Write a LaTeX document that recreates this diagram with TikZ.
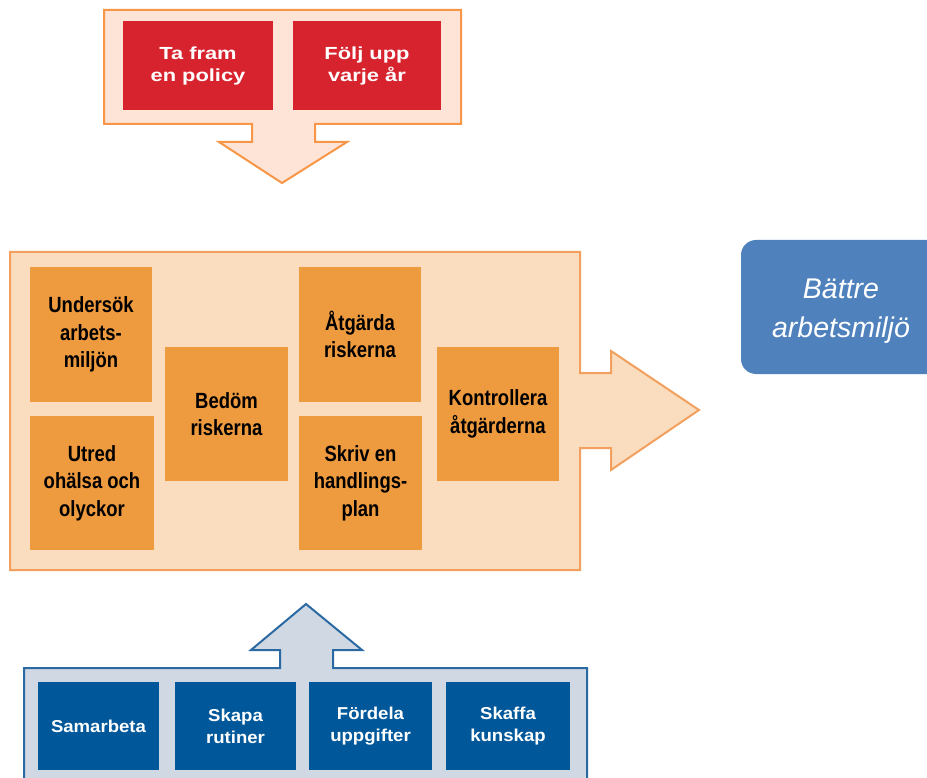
\documentclass[tikz,border=0pt]{standalone}
\usepackage{fontspec}
\setmainfont{Liberation Sans}
\newfontfamily\topfont[FakeStretch=1.25]{Liberation Sans}
\newfontfamily\midfont[FakeStretch=0.84]{Liberation Sans}
\newfontfamily\botfont[FakeStretch=1.08]{Liberation Sans}
\definecolor{redbox}{HTML}{D7232E}
\definecolor{topfill}{HTML}{FDE4D7}
\definecolor{orangeline}{HTML}{F79646}
\definecolor{midfill}{HTML}{FADDBE}
\definecolor{midline}{HTML}{F3A05E}
\definecolor{orangebox}{HTML}{EE9A3F}
\definecolor{botfill}{HTML}{D0D8E4}
\definecolor{botline}{HTML}{2A69A2}
\definecolor{bluebox}{HTML}{00589A}
\definecolor{resultbox}{HTML}{4F81BD}
\tikzset{
  redstep/.style={fill=redbox, text=white, align=center, inner sep=0pt,
    font=\topfont\bfseries\fontsize{17.5}{22}\selectfont},
  orangestep/.style={fill=orangebox, text=black, align=center, inner sep=0pt,
    font=\midfont\bfseries\fontsize{22}{27.5}\selectfont},
  bluestep/.style={fill=bluebox, text=white, align=center, inner sep=0pt, minimum height=88,
    font=\botfont\bfseries\fontsize{17.2}{22}\selectfont},
}
\begin{document}
\begin{tikzpicture}[x=1pt,y=-1pt]
\useasboundingbox (0,0) rectangle (927,778);
\clip (0,0) rectangle (927,778);
% top arrow shape
\draw[fill=topfill, draw=orangeline, line width=2pt, line join=miter]
  (104,10) -- (461,10) -- (461,124) -- (315,124) -- (315,142) -- (347,142)
  -- (282,183) -- (219,142) -- (252,142) -- (252,124) -- (104,124) -- cycle;
\node[redstep, minimum width=150, minimum height=89] (policy) at (198,65.5) {Ta fram\\en policy};
\node[redstep, minimum width=148, minimum height=89] (follow) at (367,65.5) {Följ upp\\varje år};
% middle arrow shape
\draw[fill=midfill, draw=midline, line width=2pt, line join=miter]
  (10,252) -- (580,252) -- (580,373) -- (611,373) -- (611,351) -- (699,410)
  -- (611,470) -- (611,448) -- (580,448) -- (580,570) -- (10,570) -- cycle;
\node[orangestep, minimum width=122, minimum height=135] (undersok) at (91,334.5) {\raisebox{-2pt}{\parbox{110pt}{\centering Undersök\\arbets-\\miljön}}};
\node[orangestep, minimum width=124, minimum height=134] (utred) at (92,483) {\raisebox{-2pt}{\parbox{116pt}{\centering Utred\\ohälsa och\\olyckor}}};
\node[orangestep, minimum width=123, minimum height=134] (bedom) at (226.5,414) {\raisebox{-2pt}{\parbox{110pt}{\centering Bedöm\\riskerna}}};
\node[orangestep, minimum width=122, minimum height=135] (atgarda) at (360,334.5) {\raisebox{-2pt}{\parbox{110pt}{\centering Åtgärda\\riskerna}}};
\node[orangestep, minimum width=123, minimum height=134] (skriv) at (360.5,483) {\raisebox{-2pt}{\parbox{116pt}{\centering Skriv en\\handlings-\\plan}}};
\node[orangestep, minimum width=122, minimum height=134] (kontroll) at (498,414) {\raisebox{-2pt}{\parbox{116pt}{\centering Kontrollera\\åtgärderna}}};
% bottom arrow shape
\draw[fill=botfill, draw=botline, line width=2pt, line join=miter]
  (24,668) -- (280,668) -- (280,650) -- (251,650) -- (306,604) -- (362,650)
  -- (333,650) -- (333,668) -- (587,668) -- (587,795) -- (24,795) -- cycle;
\node[bluestep, minimum width=121] (samarbeta) at (98.5,726) {Samarbeta};
\node[bluestep, minimum width=121] (skapa) at (235.5,726) {Skapa\\rutiner};
\node[bluestep, minimum width=123] (fordela) at (370.5,726) {Fördela\\uppgifter};
\node[bluestep, minimum width=124] (skaffa) at (508,726) {Skaffa\\kunskap};
% result
\fill[resultbox, rounded corners=15pt] (741,240) rectangle (960,374);
\node[text=white, align=center, font=\itshape\fontsize{28.5}{38.5}\selectfont] (result) at (841,311) {Bättre\\arbetsmiljö};
\end{tikzpicture}
\end{document}
